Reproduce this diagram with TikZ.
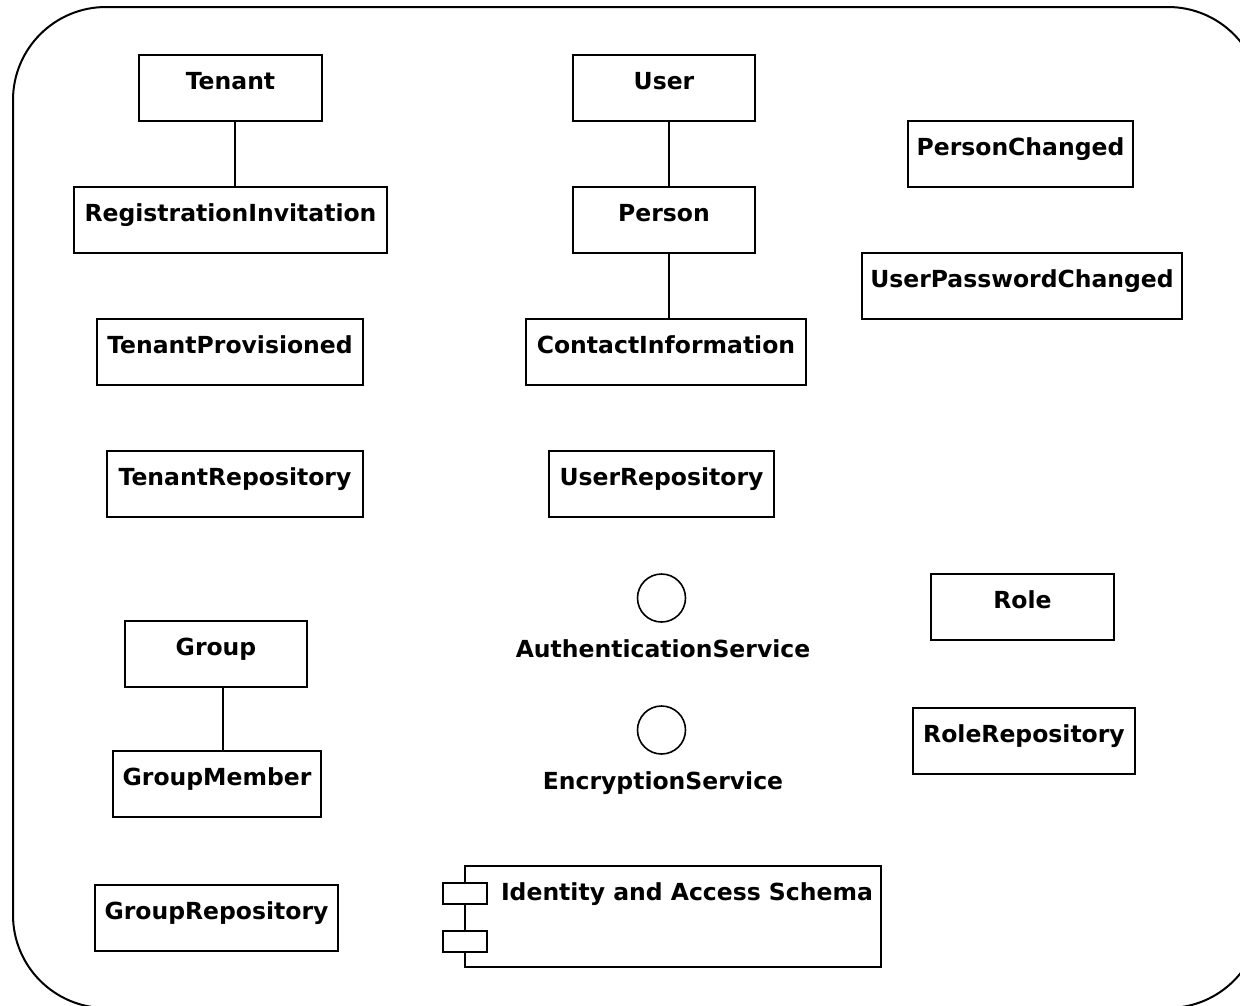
\documentclass[tikz,border=0pt]{standalone}
\usepackage{fontspec}
\setmainfont{DejaVu Sans}
\begin{document}
\begin{tikzpicture}[x=1pt,y=-1pt,
  line width=2pt,
  lbl/.style={font=\fontsize{23.5}{28}\selectfont\bfseries},
  box/.style={draw, line width=2pt, inner xsep=0pt, inner ysep=0pt,
    minimum height=66pt, text height=34pt, text depth=32pt, lbl},
  iface/.style={draw, circle, line width=1.6pt, minimum size=48pt, inner sep=0pt},
  ilabel/.style={lbl, inner sep=0pt, anchor=base},
  port/.style={draw, fill=white, line width=2pt, minimum width=44pt, minimum height=21pt, inner sep=0pt},
  link/.style={draw, line width=2pt}]
\useasboundingbox (0,0) rectangle (1240,1005);
\begin{scope}
\clip (0,0) rectangle (1240,1005);
\draw[line width=2pt, rounded corners=93pt] (13,7) rectangle (1261,1008);
\end{scope}

% left column
\node[box, minimum width=183pt] (tenant) at (230.5,88) {Tenant};
\node[box, minimum width=313pt] (reginv) at (230.5,220) {RegistrationInvitation};
\node[box, minimum width=266pt] (tprov) at (230,352) {TenantProvisioned};
\node[box, minimum width=256pt] (trepo) at (235,484) {TenantRepository};
\node[box, minimum width=182pt] (group) at (216,654) {Group};
\node[box, minimum width=208pt] (gmember) at (217,784) {GroupMember};
\node[box, minimum width=243pt] (grepo) at (216.5,918) {GroupRepository};

% middle column
\node[box, minimum width=182pt] (user) at (664,88) {User};
\node[box, minimum width=182pt] (person) at (664,220) {Person};
\node[box, minimum width=280pt] (contact) at (666,352) {ContactInformation};
\node[box, minimum width=225pt] (urepo) at (661.5,484) {UserRepository};

% right column
\node[box, minimum width=225pt] (pchanged) at (1020.5,154) {PersonChanged};
\node[box, minimum width=320pt] (upwchanged) at (1022,286) {UserPasswordChanged};
\node[box, minimum width=183pt] (role) at (1022.5,607) {Role};
\node[box, minimum width=222pt] (rrepo) at (1024,741) {RoleRepository};

% associations
\draw[link] (tenant.south -| 235,0) -- (reginv.north -| 235,0);
\draw[link] (group.south -| 223,0) -- (gmember.north -| 223,0);
\draw[link] (user.south -| 669,0) -- (person.north -| 669,0);
\draw[link] (person.south -| 669,0) -- (contact.north -| 669,0);

% provided interfaces
\node[iface] (auth) at (661.5,598) {};
\node[ilabel] (authl) at (663,657) {AuthenticationService};
\node[iface] (enc) at (661.5,730) {};
\node[ilabel] (encl) at (663,789) {EncryptionService};

% component
\node[draw, line width=2pt, minimum width=416pt, minimum height=101pt, inner sep=0pt] (comp) at (673,916.5) {};
\node[port] (port1) at (465,893) {};
\node[port] (port2) at (465,941) {};
\node[lbl, inner sep=0pt, anchor=base west] (compl) at (500,900) {Identity and Access Schema};
\end{tikzpicture}
\end{document}
